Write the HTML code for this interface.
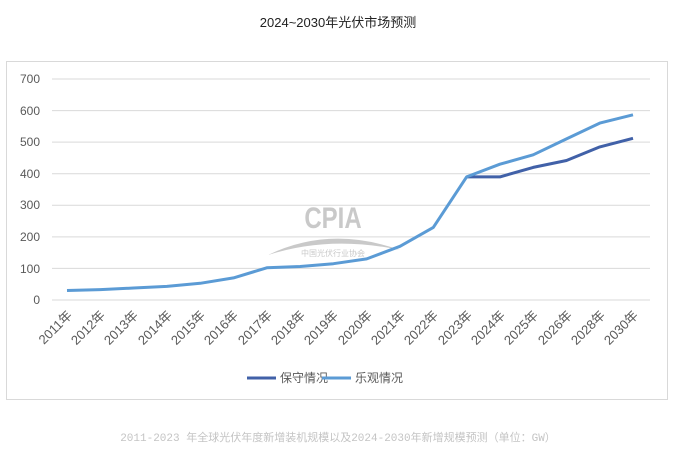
<!DOCTYPE html>
<html><head><meta charset="utf-8"><style>
body{margin:0;background:#fff;width:676px;height:449px;overflow:hidden;font-family:"Liberation Sans","Noto Sans CJK SC",sans-serif}
</style></head><body>
<svg width="676" height="449" xmlns="http://www.w3.org/2000/svg" font-family="Liberation Sans, Noto Sans CJK SC, sans-serif">
<text x="338" y="27" text-anchor="middle" font-size="13" fill="#222">2024~2030年光伏市场预测</text>
<rect x="6.5" y="61.5" width="661" height="338" fill="#fff" stroke="#d9d9d9"/>
<g stroke="#d9d9d9" stroke-width="1">
<line x1="52" x2="650" y1="79" y2="79"/><line x1="52" x2="650" y1="110.6" y2="110.6"/>
<line x1="52" x2="650" y1="142.1" y2="142.1"/><line x1="52" x2="650" y1="173.7" y2="173.7"/>
<line x1="52" x2="650" y1="205.3" y2="205.3"/><line x1="52" x2="650" y1="236.9" y2="236.9"/>
<line x1="52" x2="650" y1="268.4" y2="268.4"/><line x1="52" x2="650" y1="300" y2="300"/>
</g>
<g font-size="12" fill="#595959" text-anchor="end">
<text x="40" y="83">700</text><text x="40" y="115">600</text><text x="40" y="146">500</text>
<text x="40" y="178">400</text><text x="40" y="209">300</text><text x="40" y="241">200</text>
<text x="40" y="273">100</text><text x="40" y="304">0</text>
</g>
<g opacity="0.45" fill="#888">
<text x="333" y="228" text-anchor="middle" font-size="30" font-weight="bold" transform="translate(333,0) scale(0.8,1) translate(-333,0)">CPIA</text>
<path d="M268 255 Q330 225 400 250 Q330 235 268 255Z"/>
<text x="333" y="256" text-anchor="middle" font-size="8">中国光伏行业协会</text>
</g>
<polyline fill="none" stroke="#4161a8" stroke-width="3" stroke-linejoin="round" points="466.6,176.9 499.9,176.9 533.2,167.4 566.5,160.5 599.8,146.9 633,138.3"/>
<polyline fill="none" stroke="#5b9bd5" stroke-width="3" stroke-linejoin="round" points="67,290.5 100.3,289.6 133.6,288 166.9,286.4 200.2,283.3 233.5,277.9 266.8,267.8 300.1,266.5 333.4,263.7 366.7,258.9 400,246.3 433.3,227.4 466.6,176.9 499.9,164.2 533.2,154.8 566.5,138.9 599.8,123.1 633,114.8"/>
<g font-size="13" fill="#595959" text-anchor="end">
<text transform="translate(73,316) rotate(-45)">2011年</text>
<text transform="translate(106,316) rotate(-45)">2012年</text>
<text transform="translate(139,316) rotate(-45)">2013年</text>
<text transform="translate(173,316) rotate(-45)">2014年</text>
<text transform="translate(206,316) rotate(-45)">2015年</text>
<text transform="translate(239,316) rotate(-45)">2016年</text>
<text transform="translate(273,316) rotate(-45)">2017年</text>
<text transform="translate(306,316) rotate(-45)">2018年</text>
<text transform="translate(339,316) rotate(-45)">2019年</text>
<text transform="translate(373,316) rotate(-45)">2020年</text>
<text transform="translate(406,316) rotate(-45)">2021年</text>
<text transform="translate(439,316) rotate(-45)">2022年</text>
<text transform="translate(473,316) rotate(-45)">2023年</text>
<text transform="translate(506,316) rotate(-45)">2024年</text>
<text transform="translate(539,316) rotate(-45)">2025年</text>
<text transform="translate(573,316) rotate(-45)">2026年</text>
<text transform="translate(606,316) rotate(-45)">2028年</text>
<text transform="translate(639,316) rotate(-45)">2030年</text>
</g>
<line x1="247" x2="276" y1="378" y2="378" stroke="#4161a8" stroke-width="3"/>
<text x="280" y="382" font-size="12" fill="#595959">保守情况</text>
<line x1="322" x2="351" y1="378" y2="378" stroke="#5b9bd5" stroke-width="3"/>
<text x="355" y="382" font-size="12" fill="#595959">乐观情况</text>
<text x="338" y="441" text-anchor="middle" font-size="11" fill="#c4c4c4" font-family="Liberation Mono, Noto Sans CJK SC, monospace">2011-2023 年全球光伏年度新增装机规模以及2024-2030年新增规模预测（单位：GW）</text>
</svg>
</body></html>
